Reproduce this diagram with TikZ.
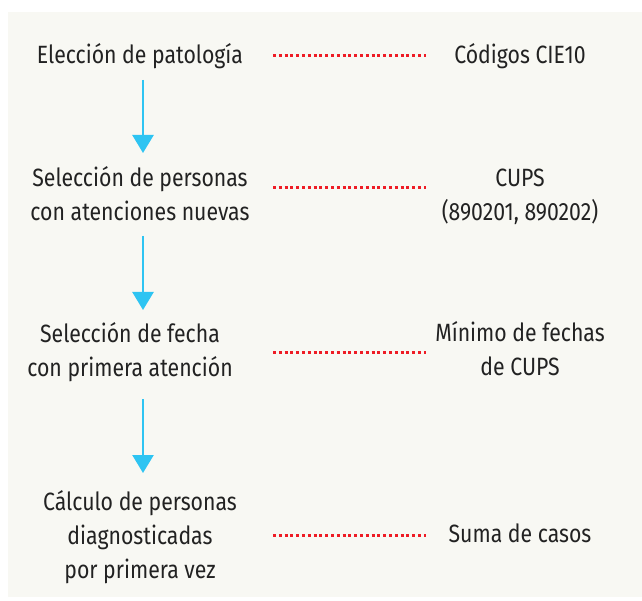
\documentclass[tikz,border=0pt]{standalone}
\usepackage{fontspec}
\setmainfont{Fira Sans}[FakeStretch=0.85]
\usetikzlibrary{arrows.meta}
\definecolor{bg}{HTML}{F8F8F3}
\definecolor{arr}{HTML}{2EC4F2}
\definecolor{dotc}{HTML}{EE1C25}
\definecolor{txt}{HTML}{222222}
\begin{document}
\begin{tikzpicture}[x=1pt,y=-1pt,
 lbl/.style={align=center,text=txt,font=\fontsize{25}{34}\selectfont,inner sep=0pt,anchor=base},
 flow/.style={draw=arr,line width=2.6pt,-{Triangle[width=21pt,length=18pt]}},
 link/.style={draw=dotc,line width=3pt,dash pattern=on 3pt off 2.8pt}]
\useasboundingbox (0,0) rectangle (642,601);
\fill[bg] (8,12) rectangle (642,597);
% left column (base = baseline of last line)
\node[lbl] (l1) at (140,64) {Elección de patología};
\node[lbl] (l2) at (140,221) {Selección de personas\\con atenciones nuevas};
\node[lbl] (l3) at (130,376) {Selección de fecha\\con primera atención};
\node[lbl] (l4) at (140,578) {Cálculo de personas\\diagnosticadas\\por primera vez};
% right column
\node[lbl] (r1) at (520,64) {Códigos CIE10};
\node[lbl] (r2) at (520,221) {CUPS\\(890201, 890202)};
\node[lbl] (r3) at (520,375) {Mínimo de fechas\\de CUPS};
\node[lbl] (r4) at (520,542) {Suma de casos};
% arrows
\coordinate (a1s) at (143,80);  \coordinate (a1e) at (143,153);
\coordinate (a2s) at (143,236); \coordinate (a2e) at (143,310);
\coordinate (a3s) at (143,399); \coordinate (a3e) at (143,473);
\draw[flow] (a1s) -- (a1e);
\draw[flow] (a2s) -- (a2e);
\draw[flow] (a3s) -- (a3e);
% dotted links
\coordinate (d1s) at (273,56);  \coordinate (d1e) at (426,56);
\coordinate (d2s) at (273,188); \coordinate (d2e) at (426,188);
\coordinate (d3s) at (273,352); \coordinate (d3e) at (426,352);
\coordinate (d4s) at (273,535); \coordinate (d4e) at (426,535);
\draw[link] (d1s) -- (d1e);
\draw[link] (d2s) -- (d2e);
\draw[link] (d3s) -- (d3e);
\draw[link] (d4s) -- (d4e);
\end{tikzpicture}
\end{document}
